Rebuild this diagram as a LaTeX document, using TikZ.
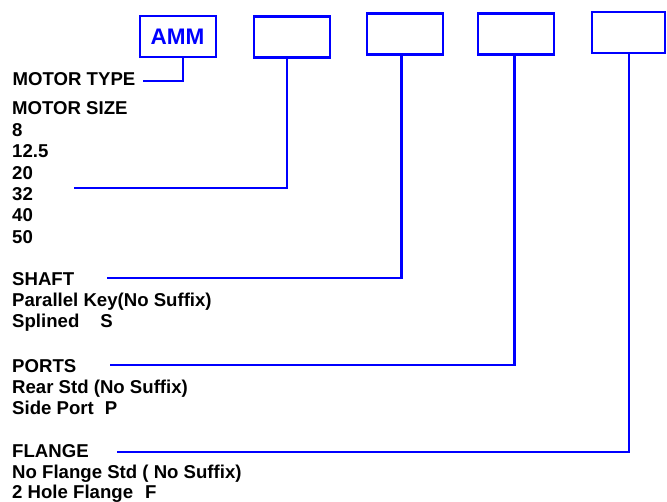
\documentclass[tikz,border=0pt]{standalone}
\usepackage{fontspec}
\setmainfont{Liberation Sans}
\definecolor{cblue}{RGB}{0,0,255}
\begin{document}
\begin{tikzpicture}[x=1pt,y=-1pt,
  lbl/.style={anchor=base west,inner sep=0pt,font=\fontsize{18.6}{21}\selectfont\bfseries},
  codebox/.style={draw=cblue,line width=2.6pt,minimum width=76pt,minimum height=41pt,inner sep=0pt},
  conn/.style={draw=cblue,line width=2.2pt}]
\useasboundingbox (0,0) rectangle (667,502);
% boxes
\node[codebox,line width=2pt,font=\fontsize{22.5}{24}\selectfont\bfseries,text=cblue] (b1) at (177.5,37) {AMM};
\node[codebox] (b2) at (292,37) {};
\node[codebox] (b3) at (405,34) {};
\node[codebox] (b4) at (516,34) {};
\node[codebox,minimum width=73pt] (b5) at (628.5,32.5) {};
% labels
\node[lbl] (mtype) at (12.5,86) {MOTOR TYPE};
\node[lbl] (msize) at (12,115) {MOTOR SIZE};
\node[lbl] (s1) at (12,136.4) {8};
\node[lbl] (s2) at (12,157.8) {12.5};
\node[lbl] (s3) at (12,179.2) {20};
\node[lbl] (s4) at (12,200.6) {32};
\node[lbl] (s5) at (12,222) {40};
\node[lbl] (s6) at (12,243.4) {50};
\node[lbl] (shaft) at (12,286) {SHAFT};
\node[lbl] (sh1) at (12,307) {Parallel Key(No Suffix)};
\node[lbl] (sh2) at (12,328) {Splined\hspace{21pt}S};
\node[lbl] (ports) at (12,373) {PORTS};
\node[lbl] (p1) at (12,394) {Rear Std (No Suffix)};
\node[lbl] (p2) at (12,415) {Side Port\hspace{11pt}P};
\node[lbl] (flange) at (12,457) {FLANGE};
\node[lbl] (f1) at (12,478.5) {No Flange Std ( No Suffix)};
\node[lbl] (f2) at (12,498.5) {2 Hole Flange\hspace{12pt}F};
% connector free ends
\coordinate (e1) at (143,81);
\coordinate (e2) at (74,188);
\coordinate (e3) at (107,278);
\coordinate (e4) at (110,365);
\coordinate (e5) at (117,452);
% connectors
\draw[conn,line width=2pt] (e1) -| ([xshift=5.5pt]b1.south);
\draw[conn] (e2) -| ([xshift=-5pt]b2.south);
\draw[conn] (e3) -| ([xshift=-3.5pt]b3.south);
\draw[conn] (e4) -| ([xshift=-1.5pt]b4.south);
\draw[conn] (e5) -| ([xshift=0.5pt]b5.south);
\end{tikzpicture}
\end{document}
